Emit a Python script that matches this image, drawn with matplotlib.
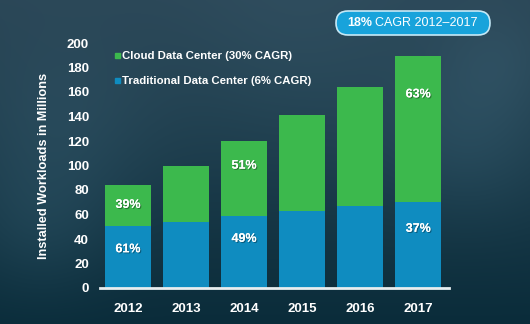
import matplotlib
matplotlib.use('Agg')
import matplotlib.pyplot as plt
import matplotlib.patheffects as pe
from matplotlib.transforms import IdentityTransform
import numpy as np
from matplotlib.patches import FancyBboxPatch

plt.rcParams['font.family'] = ['Liberation Sans', 'DejaVu Sans']

years = ['2012', '2013', '2014', '2015', '2016', '2017']
traditional = [51, 54, 59, 63, 67, 70]
cloud = [33, 46, 61, 78, 97, 119]
trad_pct = ['61%', None, '49%', None, None, '37%']
cloud_pct = ['39%', None, '51%', None, None, '63%']

green = '#3cb94d'
blue = '#0f8cc0'

fig = plt.figure(figsize=(5.3, 3.24), dpi=100)

# background: dark teal gradient with soft cloud patches
bg = fig.add_axes([0, 0, 1, 1], zorder=-10)
h, w = 324, 530
yy, xx = np.mgrid[0:h, 0:w]
t = yy / h
base = np.array([0x2a, 0x46, 0x56]) / 255
bottom = np.array([0x0a, 0x2c, 0x3a]) / 255
img = base[None, None, :] * (1 - t[..., None]) + bottom[None, None, :] * t[..., None]
blobs = [(60, 130, 70, 0.06), (470, 140, 60, 0.07), (300, 60, 90, 0.04), (40, 230, 50, 0.05), (500, 60, 40, 0.04)]
for bx, by, r, a in blobs:
    g = np.exp(-((xx - bx) ** 2 + (yy - by) ** 2) / (2 * r ** 2)) * a
    img = img + g[..., None] * np.array([0.6, 0.8, 0.9])
bg.imshow(np.clip(img, 0, 1), aspect='auto', extent=[0, 1, 0, 1])
bg.axis('off')

ax = fig.add_axes([100 / 530, 36 / 324, 349 / 530, 245 / 324])
ax.patch.set_alpha(0)
x = np.arange(len(years))
ax.bar(x, traditional, width=0.79, color=blue)
ax.bar(x, cloud, width=0.79, bottom=traditional, color=green)

ax.set_xlim(-0.483, 5.53)
ax.set_ylim(0, 200)
ax.set_yticks(range(0, 201, 20))
ax.set_xticks(x)
ax.set_xticklabels(years)
for s in ['top', 'right', 'left']:
    ax.spines[s].set_visible(False)
ax.spines['bottom'].set_color('#e8eef0')
ax.spines['bottom'].set_linewidth(2)
ax.tick_params(axis='both', length=0, colors='white', labelsize=9.5)
ax.tick_params(axis='y', pad=8)
ax.tick_params(axis='x', pad=11)
for lab in ax.get_xticklabels() + ax.get_yticklabels():
    lab.set_fontweight('bold')
ax.set_ylabel('Installed Workloads in Millions', color='white', fontsize=9.2,
              fontweight='bold', labelpad=12)

shadow = [pe.withSimplePatchShadow(offset=(0.8, -0.8), shadow_rgbFace='black', alpha=0.35), pe.Normal()]
trad_frac = [0.62, 0, 0.68, 0, 0, 0.69]
cloud_frac = [0.51, 0, 0.67, 0, 0, 0.74]
for i in range(len(years)):
    if trad_pct[i]:
        ax.text(x[i], traditional[i] * trad_frac[i], trad_pct[i], ha='center', va='center',
                color='white', fontsize=9, fontweight='bold', path_effects=shadow)
    if cloud_pct[i]:
        ax.text(x[i], traditional[i] + cloud[i] * cloud_frac[i], cloud_pct[i], ha='center',
                va='center', color='white', fontsize=9, fontweight='bold', path_effects=shadow)

# legend
fig.patches.append(plt.Rectangle((115 / 530, 1 - 58 / 324), 5 / 530, 5 / 324,
                                 transform=fig.transFigure, color=green))
fig.patches.append(plt.Rectangle((115 / 530, 1 - 83 / 324), 5 / 530, 5 / 324,
                                 transform=fig.transFigure, color=blue))
fig.text(122 / 530, 1 - 56 / 324, 'Cloud Data Center (30% CAGR)', color='white',
         fontsize=8.2, fontweight='bold', va='center')
fig.text(122 / 530, 1 - 81 / 324, 'Traditional Data Center (6% CAGR)', color='white',
         fontsize=8.2, fontweight='bold', va='center')

# CAGR pill (pixel coordinates)
pill = FancyBboxPatch((336, 324 - 35), 154, 24,
                      boxstyle='round,pad=0,rounding_size=12', transform=IdentityTransform(),
                      facecolor='#18a3db', edgecolor='#c5e9f7', linewidth=1.2)
fig.patches.append(pill)
t1 = fig.text(347 / 530, 1 - 23 / 324, '18%', color='white', fontsize=9,
              fontweight='bold', va='center')
fig.canvas.draw()
bb = t1.get_window_extent()
fig.text((bb.x1 + 3) / 530, 1 - 23 / 324, 'CAGR 2012\u20132017', color='white',
         fontsize=9, va='center')

fig.savefig('out.png', dpi=100)
